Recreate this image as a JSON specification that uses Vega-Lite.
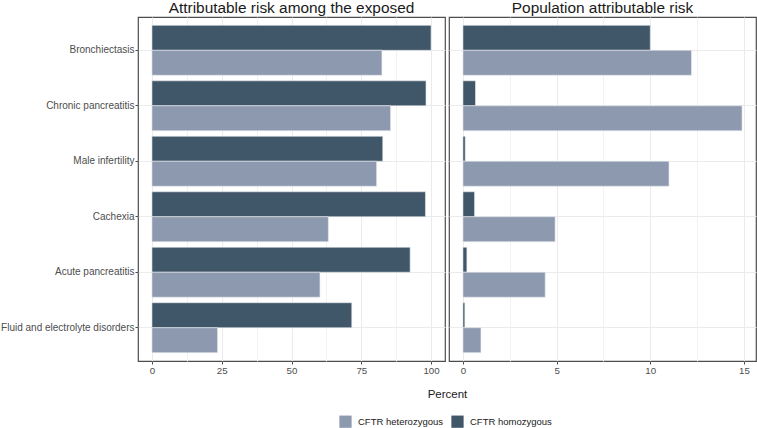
{
  "$schema": "https://vega.github.io/schema/vega-lite/v6.json",
  "padding": {"left": 0, "top": 0, "right": 0, "bottom": 0},
  "spacing": 4,
  "bounds": "flush",
  "data": {"values": [
    {"measure": "AR", "condition": "Bronchiectasis", "genotype": "CFTR homozygous", "value": 100},
    {"measure": "AR", "condition": "Bronchiectasis", "genotype": "CFTR heterozygous", "value": 82.4},
    {"measure": "AR", "condition": "Chronic pancreatitis", "genotype": "CFTR homozygous", "value": 98.2},
    {"measure": "AR", "condition": "Chronic pancreatitis", "genotype": "CFTR heterozygous", "value": 85.5},
    {"measure": "AR", "condition": "Male infertility", "genotype": "CFTR homozygous", "value": 82.7},
    {"measure": "AR", "condition": "Male infertility", "genotype": "CFTR heterozygous", "value": 80.5},
    {"measure": "AR", "condition": "Cachexia", "genotype": "CFTR homozygous", "value": 98.0},
    {"measure": "AR", "condition": "Cachexia", "genotype": "CFTR heterozygous", "value": 63.2},
    {"measure": "AR", "condition": "Acute pancreatitis", "genotype": "CFTR homozygous", "value": 92.5},
    {"measure": "AR", "condition": "Acute pancreatitis", "genotype": "CFTR heterozygous", "value": 60.2},
    {"measure": "AR", "condition": "Fluid and electrolyte disorders", "genotype": "CFTR homozygous", "value": 71.6},
    {"measure": "AR", "condition": "Fluid and electrolyte disorders", "genotype": "CFTR heterozygous", "value": 23.5},
    {"measure": "PAR", "condition": "Bronchiectasis", "genotype": "CFTR homozygous", "value": 10.0},
    {"measure": "PAR", "condition": "Bronchiectasis", "genotype": "CFTR heterozygous", "value": 12.2},
    {"measure": "PAR", "condition": "Chronic pancreatitis", "genotype": "CFTR homozygous", "value": 0.67},
    {"measure": "PAR", "condition": "Chronic pancreatitis", "genotype": "CFTR heterozygous", "value": 14.9},
    {"measure": "PAR", "condition": "Male infertility", "genotype": "CFTR homozygous", "value": 0.12},
    {"measure": "PAR", "condition": "Male infertility", "genotype": "CFTR heterozygous", "value": 11.0},
    {"measure": "PAR", "condition": "Cachexia", "genotype": "CFTR homozygous", "value": 0.62},
    {"measure": "PAR", "condition": "Cachexia", "genotype": "CFTR heterozygous", "value": 4.92},
    {"measure": "PAR", "condition": "Acute pancreatitis", "genotype": "CFTR homozygous", "value": 0.21},
    {"measure": "PAR", "condition": "Acute pancreatitis", "genotype": "CFTR heterozygous", "value": 4.39},
    {"measure": "PAR", "condition": "Fluid and electrolyte disorders", "genotype": "CFTR homozygous", "value": 0.1},
    {"measure": "PAR", "condition": "Fluid and electrolyte disorders", "genotype": "CFTR heterozygous", "value": 0.96}
  ]},
  "hconcat": [
    {
      "title": {"text": "Attributable risk among the exposed"},
      "width": 307,
      "height": 344,
      "transform": [{"filter": "datum.measure === 'AR'"}],
      "encoding": {
        "y": {"field": "condition", "type": "nominal",
          "sort": ["Bronchiectasis", "Chronic pancreatitis", "Male infertility", "Cachexia", "Acute pancreatitis", "Fluid and electrolyte disorders"],
          "scale": {"paddingInner": 0.1, "paddingOuter": 0.15},
          "axis": {"title": null, "grid": true, "bandPosition": 0.5, "domain": false, "ticks": true, "tickSize": 3, "tickColor": "#4d4d4d", "labelPadding": 1, "labelFontSize": 10}},
        "yOffset": {"field": "genotype", "type": "nominal", "sort": ["CFTR homozygous", "CFTR heterozygous"], "scale": {"paddingInner": 0, "paddingOuter": 0}},
        "color": {"field": "genotype", "type": "nominal",
          "scale": {"domain": ["CFTR heterozygous", "CFTR homozygous"], "range": ["#8c99ae", "#405669"]},
          "legend": {"title": null, "orient": "none", "direction": "horizontal", "legendX": 201, "legendY": 398}}
      },
      "layer": [
        {
          "mark": {"type": "bar", "opacity": 0},
          "encoding": {
            "x": {"field": "value", "type": "quantitative", "scale": {"domain": [-5, 105], "nice": false, "zero": false},
              "axis": {"orient": "top", "values": [12.5, 37.5, 62.5, 87.5], "grid": true, "gridColor": "#f2f2f2", "labels": false, "ticks": false, "domain": false, "title": null}},
            "x2": {"datum": 0}
          }
        },
        {
          "mark": {"type": "bar", "stroke": "#e8ebef", "strokeWidth": 0.6},
          "encoding": {
            "x": {"field": "value", "type": "quantitative", "scale": {"domain": [-5, 105], "nice": false, "zero": false},
              "axis": {"values": [0, 25, 50, 75, 100], "grid": true, "domain": false, "tickSize": 3, "tickColor": "#4d4d4d", "labelPadding": 1,
                "title": "Percent", "titleX": 309, "titlePadding": 14}},
            "x2": {"datum": 0}
          }
        }
      ],
      "resolve": {"axis": {"x": "independent"}}
    },
    {
      "title": {"text": "Population attributable risk"},
      "width": 307,
      "height": 344,
      "transform": [{"filter": "datum.measure === 'PAR'"}],
      "encoding": {
        "y": {"field": "condition", "type": "nominal",
          "sort": ["Bronchiectasis", "Chronic pancreatitis", "Male infertility", "Cachexia", "Acute pancreatitis", "Fluid and electrolyte disorders"],
          "scale": {"paddingInner": 0.1, "paddingOuter": 0.15},
          "axis": {"title": null, "grid": true, "bandPosition": 0.5, "domain": false, "ticks": false, "labels": false}},
        "yOffset": {"field": "genotype", "type": "nominal", "sort": ["CFTR homozygous", "CFTR heterozygous"], "scale": {"paddingInner": 0, "paddingOuter": 0}},
        "color": {"field": "genotype", "type": "nominal",
          "scale": {"domain": ["CFTR heterozygous", "CFTR homozygous"], "range": ["#8c99ae", "#405669"]},
          "legend": null}
      },
      "layer": [
        {
          "mark": {"type": "bar", "opacity": 0},
          "encoding": {
            "x": {"field": "value", "type": "quantitative", "scale": {"domain": [-0.745, 15.645], "nice": false, "zero": false},
              "axis": {"orient": "top", "values": [2.5, 7.5, 12.5], "grid": true, "gridColor": "#f2f2f2", "labels": false, "ticks": false, "domain": false, "title": null}},
            "x2": {"datum": 0}
          }
        },
        {
          "mark": {"type": "bar", "stroke": "#e8ebef", "strokeWidth": 0.6},
          "encoding": {
            "x": {"field": "value", "type": "quantitative", "scale": {"domain": [-0.745, 15.645], "nice": false, "zero": false},
              "axis": {"values": [0, 5, 10, 15], "grid": true, "domain": false, "tickSize": 3, "tickColor": "#4d4d4d", "labelPadding": 1, "title": null}},
            "x2": {"datum": 0}
          }
        }
      ],
      "resolve": {"axis": {"x": "independent"}}
    }
  ],
  "resolve": {"scale": {"x": "independent", "color": "shared"}},
  "config": {
    "font": "Liberation Sans",
    "view": {"stroke": "#4d4d4d", "strokeWidth": 1.2},
    "axis": {"labelFontSize": 9.7, "labelColor": "#4d4d4d", "gridColor": "#ebebeb", "gridWidth": 1, "titleFontSize": 11.5, "titleFontWeight": "normal", "titleColor": "#1a1a1a"},
    "title": {"fontSize": 15.4, "fontWeight": "normal", "color": "#1a1a1a", "anchor": "middle", "frame": "group", "offset": 1},
    "legend": {"labelFontSize": 9.5, "labelColor": "#1a1a1a", "symbolType": "square", "symbolSize": 150, "symbolStrokeWidth": 0, "labelOffset": 6, "columnPadding": 7}
  }
}
